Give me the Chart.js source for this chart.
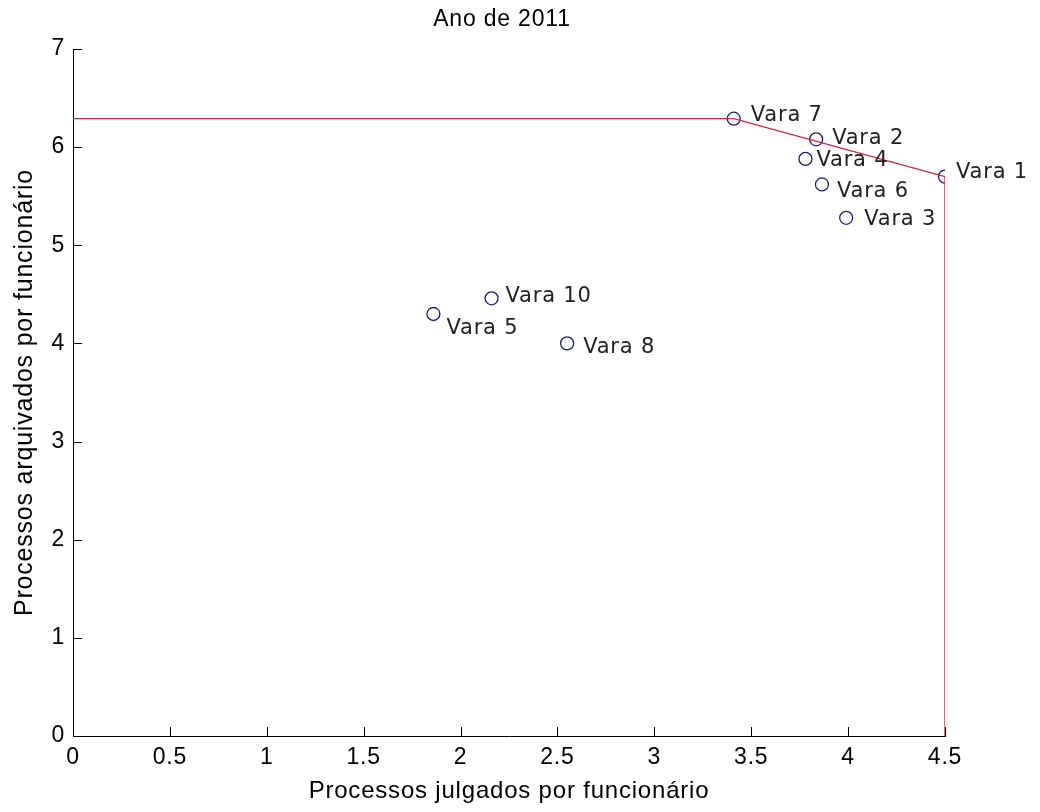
<!DOCTYPE html>
<html>
<head>
<meta charset="utf-8">
<script src="https://cdn.jsdelivr.net/npm/chart.js@4/dist/chart.umd.min.js"></script>
<style>
  html, body { margin: 0; padding: 0; background: #fff; }
  #wrap { width: 1040px; height: 812px; }
</style>
</head>
<body>
<div id="wrap"><canvas id="graph"></canvas></div>
<script>
// data
const chartTitle = "Ano de 2011";
const varas = ["Vara 7", "Vara 2", "Vara 4", "Vara 1", "Vara 6", "Vara 3", "Vara 10", "Vara 5", "Vara 8"];
const julgados = [3.41, 3.835, 3.78, 4.5, 3.865, 3.99, 2.16, 1.86, 2.55];
const arquivados = [6.29, 6.08, 5.88, 5.70, 5.62, 5.28, 4.46, 4.30, 4.00];
const frontierX = [0, 3.41, 4.5, 4.5];
const frontierY = [6.29, 6.29, 5.70, 0];
const xTickLabels = ["0", "0.5", "1", "1.5", "2", "2.5", "3", "3.5", "4", "4.5"];
const yTickLabels = ["0", "1", "2", "3", "4", "5", "6", "7"];

// label offsets (px) from each marker
const labelOffsets = {
  "Vara 7": [17, -3], "Vara 2": [16, -1], "Vara 4": [11, 2], "Vara 1": [11, -4],
  "Vara 6": [15, 7], "Vara 3": [18, 2], "Vara 10": [14, -2], "Vara 5": [13, 15], "Vara 8": [16, 4],
};

const ctx = document.getElementById("graph");

// wider spacing like the original bitmap font
const spacing = {
  id: "spacing",
  beforeDraw(chart) {
    chart.ctx.letterSpacing = "0.8px";
  },
};

const titleText = {
  id: "titleText",
  afterDraw(chart) {
    const c = chart.ctx;
    const area = chart.chartArea;
    c.save();
    c.font = "23px 'Liberation Sans'";
    c.fillStyle = "#000";
    c.textAlign = "center";
    c.textBaseline = "middle";
    c.fillText(chartTitle, (area.left + area.right) / 2 - 7, 20);
    c.restore();
  },
};

const pointLabels = {
  id: "pointLabels",
  afterDatasetsDraw(chart) {
    const c = chart.ctx;
    const meta = chart.getDatasetMeta(1);
    c.save();
    c.font = "21px 'DejaVu Sans'";
    c.fillStyle = "#222";
    c.textBaseline = "middle";
    c.textAlign = "left";
    meta.data.forEach((pt, i) => {
      const off = labelOffsets[varas[i]] || [14, 0];
      c.fillText(varas[i], pt.x + off[0], pt.y + off[1]);
    });
    c.restore();
  },
};

// matlab style inward ticks
const inwardTicks = {
  id: "inwardTicks",
  afterDraw(chart) {
    const c = chart.ctx;
    const xs = chart.scales.x;
    const ys = chart.scales.y;
    const area = chart.chartArea;
    c.save();
    c.strokeStyle = "#000";
    c.lineWidth = 1;
    c.beginPath();
    xs.ticks.forEach((t) => {
      const px = Math.round(xs.getPixelForValue(t.value)) + 0.5;
      c.moveTo(px, area.bottom);
      c.lineTo(px, area.bottom - 9);
    });
    ys.ticks.forEach((t) => {
      const py = Math.round(ys.getPixelForValue(t.value)) + 0.5;
      c.moveTo(area.left, py);
      c.lineTo(area.left + 9, py);
    });
    c.stroke();
    c.restore();
  },
};

new Chart(ctx, {
  type: "scatter",
  data: {
    datasets: [
      {
        label: "Fronteira",
        data: frontierX.map((x, i) => ({ x: x, y: frontierY[i] })),
        showLine: true,
        borderColor: "#c8283c",
        borderWidth: 1.3,
        pointRadius: 0,
        fill: false,
      },
      {
        label: "Varas",
        data: julgados.map((x, i) => ({ x: x, y: arquivados[i] })),
        pointRadius: 6.5,
        pointStyle: "circle",
        backgroundColor: "transparent",
        borderColor: "#1c1c78",
        borderWidth: 1.3,
      },
    ],
  },
  options: {
    responsive: true,
    maintainAspectRatio: false,
    animation: false,
    layout: {
      padding: { top: 49, left: 0, right: 95, bottom: 0 },
    },
    plugins: {
      legend: { display: false },
      tooltip: { enabled: false },
      title: { display: false },
    },
    scales: {
      x: {
        type: "linear",
        min: 0,
        max: 4.5,
        afterFit: (scale) => { scale.height = 76; },
        grid: { display: true, drawOnChartArea: false, drawTicks: false },
        border: { display: true, color: "#000", width: 1 },
        ticks: {
          stepSize: 0.5,
          padding: 8,
          color: "#000",
          font: { family: "'Liberation Sans'", size: 23 },
          callback: (v, i) => xTickLabels[i],
        },
        title: {
          display: true,
          text: "Processos julgados por funcionário",
          color: "#000",
          font: { family: "'Liberation Sans'", size: 24 },
          padding: { top: 0, bottom: 6 },
        },
      },
      y: {
        type: "linear",
        min: 0,
        max: 7,
        afterFit: (scale) => { scale.width = 73; },
        grid: { display: true, drawOnChartArea: false, drawTicks: false },
        border: { display: true, color: "#000", width: 1 },
        ticks: {
          stepSize: 1,
          padding: 8,
          color: "#000",
          font: { family: "'Liberation Sans'", size: 23 },
          callback: (v, i) => yTickLabels[i],
        },
        title: {
          display: true,
          text: "Processos arquivados por funcionário",
          color: "#000",
          font: { family: "'Liberation Sans'", size: 25 },
          padding: { top: 10, bottom: 0 },
        },
      },
    },
  },
  plugins: [spacing, titleText, pointLabels, inwardTicks],
});
</script>
</body>
</html>
